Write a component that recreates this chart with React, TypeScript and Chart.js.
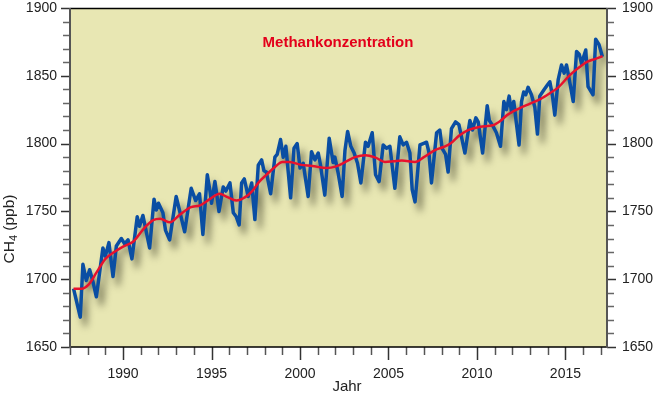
import { useEffect, useRef } from 'react';
import { Chart, registerables } from 'chart.js';

Chart.register(...registerables);

// Monthly CH4 values (vertices of the blue curve), decimal year / ppb
const blueYears = [
  1987.2, 1987.58, 1987.73, 1987.92, 1988.11, 1988.3, 1988.49, 1988.86, 1989.0, 1989.2,
  1989.43, 1989.62, 1989.9, 1990.09, 1990.28, 1990.5, 1990.8, 1990.93, 1991.12, 1991.5,
  1991.75, 1991.88, 1992.0, 1992.25, 1992.4, 1992.63, 1993.0, 1993.48, 1993.85, 1994.1,
  1994.32, 1994.51, 1994.76, 1994.9, 1995.0, 1995.19, 1995.32, 1995.42, 1995.66, 1995.81,
  1996.04, 1996.23, 1996.4, 1996.56, 1996.7, 1996.85, 1997.07, 1997.27, 1997.45, 1997.64,
  1997.83, 1997.96, 1998.1, 1998.34, 1998.58, 1998.71, 1998.9, 1999.05, 1999.2, 1999.47,
  1999.66, 1999.84, 2000.0, 2000.18, 2000.46, 2000.65, 2000.84, 2001.03, 2001.16, 2001.4,
  2001.65, 2001.87, 2001.97, 2002.16, 2002.38, 2002.54, 2002.69, 2002.87, 2003.06, 2003.25,
  2003.44, 2003.7, 2003.85, 2004.08, 2004.27, 2004.47, 2004.7, 2004.89, 2005.08, 2005.36,
  2005.64, 2005.83, 2006.02, 2006.21, 2006.34, 2006.5, 2006.78, 2006.96, 2007.15, 2007.28,
  2007.43, 2007.72, 2007.9, 2008.03, 2008.23, 2008.37, 2008.56, 2008.79, 2008.98, 2009.32,
  2009.6, 2009.75, 2009.94, 2010.07, 2010.32, 2010.58, 2010.7, 2010.92, 2011.1, 2011.33,
  2011.52, 2011.67, 2011.82, 2011.95, 2012.08, 2012.38, 2012.52, 2012.64, 2012.76, 2012.89,
  2013.08, 2013.27, 2013.42, 2013.55, 2013.78, 2013.97, 2014.12, 2014.27, 2014.4, 2014.59,
  2014.78, 2014.93, 2015.06, 2015.25, 2015.44, 2015.63, 2015.78, 2015.91, 2016.15, 2016.28,
  2016.56, 2016.71, 2016.9, 2017.09,
];
const blueValues = [
  1693, 1672, 1711, 1699, 1707, 1698, 1687, 1723, 1717, 1727,
  1702, 1724.5, 1730, 1726, 1729, 1715, 1746, 1739, 1747, 1723,
  1759, 1751, 1756, 1749, 1736, 1729, 1761, 1735, 1767, 1758,
  1763, 1733, 1777, 1766, 1756, 1772, 1760, 1750, 1768, 1765,
  1771, 1749, 1746, 1740, 1771, 1774, 1761, 1771, 1744, 1784,
  1788, 1780, 1779, 1763, 1790, 1792, 1803, 1790, 1798, 1760,
  1796.5, 1800, 1782, 1785.5, 1761, 1794, 1788, 1793, 1784, 1762,
  1804, 1786, 1790, 1778, 1761, 1795, 1809, 1798, 1793, 1785.5,
  1771, 1801, 1798, 1808, 1777, 1772, 1799, 1796.5, 1798, 1767,
  1805, 1799, 1801, 1793, 1766, 1757, 1799, 1800, 1801, 1794,
  1771, 1808, 1810, 1796.5, 1792, 1779, 1811, 1816, 1814, 1793,
  1817, 1810, 1819, 1816, 1793, 1828, 1817, 1812.5, 1808, 1798,
  1831, 1825, 1835, 1823.5, 1831, 1799, 1831, 1838, 1836, 1841.5,
  1836, 1827, 1807, 1835, 1839.5, 1843, 1845.6, 1835, 1821, 1847,
  1858, 1852, 1858, 1845, 1831, 1868, 1866, 1859, 1869, 1842,
  1836, 1877, 1873, 1864,
];

// Smoothed trend (red curve)
const trendYears = [
  1987.2, 1987.65, 1988.05, 1988.5, 1989.0, 1989.5, 1990.0, 1990.6, 1991.15, 1991.7,
  1992.1, 1992.65, 1993.2, 1993.8, 1994.35, 1994.9, 1995.45, 1995.9, 1996.4, 1996.9,
  1997.3, 1997.7, 1998.1, 1998.6, 1999.0, 1999.4, 2000.0, 2000.7, 2001.5, 2002.0,
  2002.5, 2003.1, 2003.7, 2004.3, 2004.8, 2005.3, 2005.75, 2006.5, 2007.0, 2007.6,
  2008.1, 2008.5, 2009.0, 2009.5, 2010.2, 2010.9, 2011.3, 2011.7, 2012.4, 2013.0,
  2013.6, 2014.1, 2014.6, 2015.25, 2015.8, 2016.25, 2016.7, 2017.1,
];
const trendValues = [
  1693, 1693, 1696, 1705, 1715, 1720, 1724, 1728, 1737, 1743.5,
  1744.5, 1742, 1747.5, 1753, 1754.5, 1759, 1763, 1760.5, 1758, 1760.5,
  1765, 1772, 1777, 1783, 1786.5, 1786.5, 1784.5, 1783.5, 1782, 1783,
  1786, 1790, 1791.5, 1789.5, 1786.5, 1787, 1787.5, 1786.5, 1790, 1795,
  1797.5, 1800, 1806, 1810, 1812.5, 1813.5, 1816.5, 1821, 1826, 1829.5,
  1833, 1837, 1841.5, 1850.5, 1856.5, 1860.5, 1862.5, 1864.5,
];

const xMajorTicks = [1990, 1995, 2000, 2005, 2010, 2015];
const yMajorTicks = [1650, 1700, 1750, 1800, 1850, 1900];
const xMin = 1987;
const xMax = 2017.35;
const yMin = 1650;
const yMax = 1900;

const titleText = 'Methankonzentration';
const xTitle = 'Jahr';

const FONT = '"Liberation Sans", Arial, Helvetica, sans-serif';

export default function App() {
  const ref = useRef<HTMLCanvasElement | null>(null);

  useEffect(() => {
    document.body.style.margin = '0';
    const canvas = ref.current;
    if (!canvas) return;

    const decor = {
      id: 'decor',
      beforeDraw(chart: any) {
        const { ctx, chartArea: a } = chart;
        ctx.save();
        ctx.fillStyle = '#ffffff';
        ctx.fillRect(0, 0, chart.width, chart.height);
        ctx.fillStyle = '#e8e7b3';
        ctx.fillRect(a.left, a.top, a.right - a.left, a.bottom - a.top);
        ctx.restore();
      },
      beforeDatasetDraw(chart: any, args: any) {
        if (args.index === 0) {
          const ctx = chart.ctx;
          ctx.save();
          ctx.shadowColor = 'rgba(55,55,35,0.6)';
          ctx.shadowBlur = 7;
          ctx.shadowOffsetX = 5;
          ctx.shadowOffsetY = 8;
        }
      },
      afterDatasetDraw(chart: any, args: any) {
        if (args.index === 0) chart.ctx.restore();
      },
      afterDraw(chart: any) {
        const { ctx, chartArea: a } = chart;
        const xs = chart.scales.x;
        const ys = chart.scales.y;
        ctx.save();
        // minor / major ticks y
        for (let v = yMin; v <= yMax; v += 10) {
          const py = Math.round(ys.getPixelForValue(v)) + 0.5;
          const major = v % 50 === 0;
          ctx.strokeStyle = major ? '#333' : '#666';
          ctx.lineWidth = 1.5;
          ctx.beginPath();
          ctx.moveTo(a.left - (major ? 9 : 7), py);
          ctx.lineTo(a.left, py);
          ctx.moveTo(a.right, py);
          ctx.lineTo(a.right + (major ? 9 : 7), py);
          ctx.stroke();
        }
        // ticks x
        for (let yr = 1987; yr <= 2017; yr++) {
          const px = Math.round(xs.getPixelForValue(yr)) + 0.5;
          const major = yr % 5 === 0;
          ctx.strokeStyle = major ? '#333' : '#555';
          ctx.lineWidth = 1.5;
          ctx.beginPath();
          ctx.moveTo(px, a.bottom);
          ctx.lineTo(px, a.bottom + (major ? 13 : 8));
          ctx.stroke();
        }
        // frame
        ctx.strokeStyle = '#000';
        ctx.lineWidth = 1.5;
        ctx.beginPath();
        ctx.moveTo(a.left, a.top + 0.5);
        ctx.lineTo(a.right, a.top + 0.5);
        ctx.moveTo(a.left, a.bottom);
        ctx.lineTo(a.right, a.bottom);
        ctx.stroke();
        ctx.strokeStyle = '#555';
        ctx.lineWidth = 2;
        ctx.beginPath();
        ctx.moveTo(a.left, a.top);
        ctx.lineTo(a.left, a.bottom + 1);
        ctx.moveTo(a.right, a.top);
        ctx.lineTo(a.right, a.bottom + 1);
        ctx.stroke();

        // title
        ctx.fillStyle = '#e3001b';
        ctx.font = `bold 15px ${FONT}`;
        ctx.textAlign = 'center';
        ctx.textBaseline = 'middle';
        ctx.fillText(titleText, 338, 43);

        // x title
        ctx.fillStyle = '#222';
        ctx.font = `15px ${FONT}`;
        ctx.fillText(xTitle, 347, 387);

        // y title with subscript
        ctx.translate(10, 229);
        ctx.rotate(-Math.PI / 2);
        ctx.textAlign = 'left';
        ctx.font = `15.5px ${FONT}`;
        const w1 = ctx.measureText('CH').width;
        const w3 = ctx.measureText(' (ppb)').width;
        ctx.font = `11px ${FONT}`;
        const w2 = ctx.measureText('4').width;
        const start = -(w1 + w2 + w3) / 2;
        ctx.font = `15.5px ${FONT}`;
        ctx.fillText('CH', start, 0);
        ctx.font = `11px ${FONT}`;
        ctx.fillText('4', start + w1, 4);
        ctx.font = `15.5px ${FONT}`;
        ctx.fillText(' (ppb)', start + w1 + w2, 0);
        ctx.restore();
      },
    };

    const tickFont = { family: FONT, size: 14 };

    const chart = new Chart(canvas, {
      type: 'line',
      data: {
        datasets: [
          {
            label: 'CH4',
            data: blueYears.map((x, i) => ({ x, y: blueValues[i] })),
            borderColor: '#0a4ea3',
            borderWidth: 3.5,
            pointRadius: 0,
            tension: 0,
            borderJoinStyle: 'round',
            order: 1,
          },
          {
            label: 'Trend',
            data: trendYears.map((x, i) => ({ x, y: trendValues[i] })),
            borderColor: '#e8112d',
            borderWidth: 2.5,
            pointRadius: 0,
            cubicInterpolationMode: 'monotone',
            order: 0,
          },
        ],
      },
      options: {
        animation: false,
        responsive: false,
        events: [],
        layout: { padding: { top: 8, left: 0, right: 0, bottom: 0 } },
        plugins: {
          legend: { display: false },
          tooltip: { enabled: false },
          title: { display: false },
        },
        scales: {
          x: {
            type: 'linear',
            min: xMin,
            max: xMax,
            afterBuildTicks: (s: any) => {
              s.ticks = xMajorTicks.map((v) => ({ value: v }));
            },
            afterFit: (s: any) => {
              s.height = 50;
              s.paddingLeft = 0;
              s.paddingRight = 0;
            },
            ticks: {
              font: tickFont,
              color: '#222',
              padding: 19,
              maxRotation: 0,
              autoSkip: false,
              callback: (v: any) => String(v),
            },
            grid: { display: false, drawTicks: false },
            border: { display: false },
          },
          y: {
            position: 'left',
            min: yMin,
            max: yMax,
            afterBuildTicks: (s: any) => {
              s.ticks = yMajorTicks.map((v) => ({ value: v }));
            },
            afterFit: (s: any) => {
              s.width = 70;
              s.paddingTop = 0;
              s.paddingBottom = 0;
            },
            ticks: {
              font: tickFont,
              color: '#222',
              padding: 13,
              callback: (v: any) => String(v),
            },
            grid: { display: false, drawTicks: false },
            border: { display: false },
          },
          y2: {
            position: 'right',
            min: yMin,
            max: yMax,
            afterBuildTicks: (s: any) => {
              s.ticks = yMajorTicks.map((v) => ({ value: v }));
            },
            afterFit: (s: any) => {
              s.width = 53;
              s.paddingTop = 0;
              s.paddingBottom = 0;
            },
            ticks: {
              font: tickFont,
              color: '#222',
              padding: 15,
              callback: (v: any) => String(v),
            },
            grid: { display: false, drawTicks: false },
            border: { display: false },
          },
        },
      },
      plugins: [decor],
    } as any);

    return () => chart.destroy();
  }, []);

  return (
    <div style={{ width: 660, height: 397 }}>
      <canvas ref={ref} width={660} height={397} style={{ display: 'block', width: 660, height: 397 }} />
    </div>
  );
}
